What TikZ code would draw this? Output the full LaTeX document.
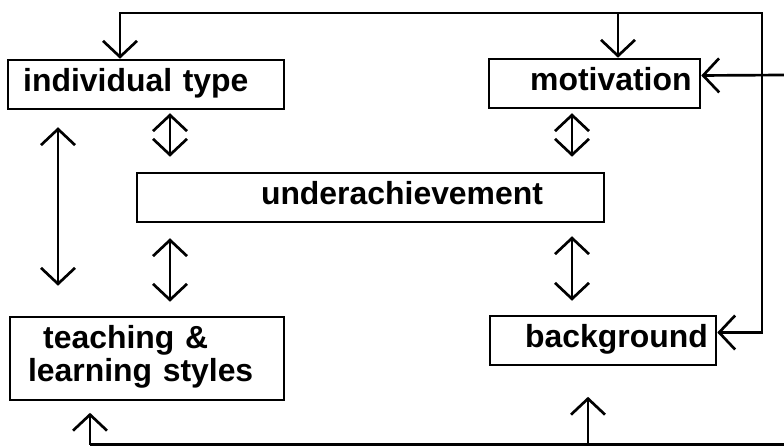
\documentclass[tikz,border=0pt]{standalone}
\usepackage{fontspec}
\setmainfont{Liberation Sans}
\usetikzlibrary{arrows.meta}
\tikzset{
	box/.style={draw, line width=1.8pt, inner xsep=0pt, inner ysep=0pt, align=left,
		minimum height=1.225cm, execute at begin node=\strut,
		font=\fontsize{22.7}{23.5}\selectfont\bfseries},
	arr/.style={line width=1.9pt, -{Straight Barb[length=4mm,width=8.5mm]}},
	dbl/.style={line width=1.9pt, {Straight Barb[length=4mm,width=8.5mm]}-{Straight Barb[length=4mm,width=8.5mm]}}
}
\begin{document}
\begin{tikzpicture}
		\useasboundingbox (0,0) rectangle (19.6,11.15);
		% boxes
		\node[box, text width=6.9cm] (indiv) at (3.65,9.0375) {\hspace*{0.38cm}individual type};
		\node[box, text width=5.275cm] (motiv) at (14.8625,9.0625) {\hspace*{1.03cm}motivation};
		\node[box, text width=11.675cm] (under) at (9.2625,6.2125) {\hspace*{3.1cm}underachievement};
		\node[box, text width=6.85cm, minimum height=2.075cm] (teach) at (3.675,2.1875) {\hspace*{0.83cm}teaching \&\\\strut\hspace*{0.45cm}learning styles};
		\node[box, text width=5.65cm] (bg) at (15.075,2.6375) {\hspace*{0.88cm}background};
		% columns and corners
		\coordinate (tl) at (3,10.825);
		\coordinate (tm) at (15.45,10.825);
		\coordinate (tr) at (19.05,10.825);
		\coordinate (re) at (19.6,9.275);
		\coordinate (bl) at (2.25,0.03);
		\coordinate (bm) at (14.7,0.03);
		\coordinate (br) at (19.6,0.03);
		\coordinate (lx) at (1.45,0);
		\coordinate (lc) at (4.25,0);
		\coordinate (rc) at (14.3,0);
		% feedback loops
		\draw[dbl] (tl |- indiv.north) -- (tl) -- (tr) |- ([yshift=0.2cm]bg.east);
		\draw[arr] (tm) -- (tm |- motiv.north);
		\draw[arr] (re) -- ([yshift=0.2cm]motiv.east);
		\draw[line width=1.9pt] (bl) -- (br);
		\draw[arr] (bl) -- ++(0,0.8);
		\draw[arr] (bm) -- ++(0,1.2);
		% links
		\draw[dbl, shorten <=0.425cm, shorten >=0.75cm] (lx |- indiv.south) -- (lx |- teach.north);
		\draw[dbl, shorten <=0.075cm, shorten >=0.375cm] (lc |- indiv.south) -- (lc |- under.north);
		\draw[dbl, shorten <=0.375cm, shorten >=0.35cm] (lc |- under.south) -- (lc |- teach.north);
		\draw[dbl, shorten <=0.1cm, shorten >=0.375cm] (rc |- motiv.south) -- (rc |- under.north);
		\draw[dbl, shorten <=0.325cm, shorten >=0.35cm] (rc |- under.south) -- (rc |- bg.north);
	\end{tikzpicture}
\end{document}
